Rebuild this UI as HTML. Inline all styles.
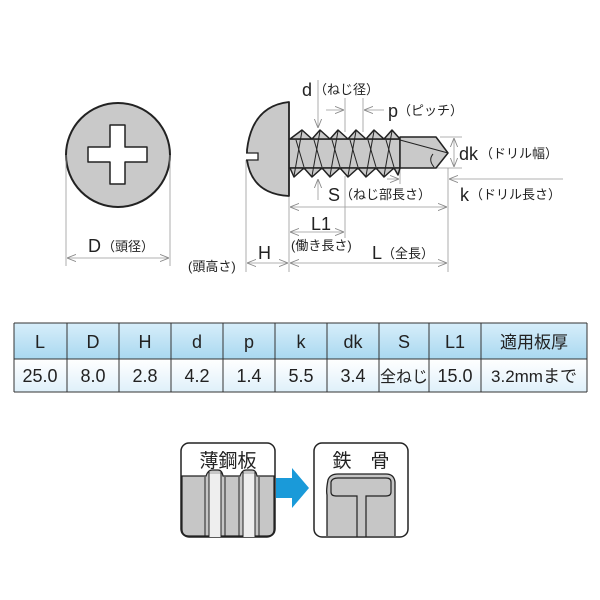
<!DOCTYPE html>
<html><head><meta charset="utf-8"><style>
body{margin:0;background:#fff;}
svg{display:block;font-family:"Liberation Sans","Noto Sans CJK JP",sans-serif;}
</style></head><body>
<svg width="600" height="600" viewBox="0 0 600 600" xmlns="http://www.w3.org/2000/svg">
<defs>
<marker id="a" viewBox="0 0 10 10" refX="10" refY="5" markerWidth="9" markerHeight="9" orient="auto-start-reverse" markerUnits="userSpaceOnUse"><path d="M0,1 L10,5 L0,9" fill="none" stroke="#888" stroke-width="1"/></marker>
<linearGradient id="hd" x1="0" y1="0" x2="0" y2="1"><stop offset="0" stop-color="#d7eefa"/><stop offset="1" stop-color="#a9d8f0"/></linearGradient>
<linearGradient id="dt" x1="0" y1="0" x2="0" y2="1"><stop offset="0" stop-color="#ffffff"/><stop offset="1" stop-color="#dff0fa"/></linearGradient>
</defs>

<circle cx="118" cy="155" r="52" fill="#c9c9c9" stroke="#222" stroke-width="2"/>
<path d="M110,125 h15 v22 h22 v15 h-22 v22 h-15 v-22 h-22 v-15 h22 z" fill="#fff" stroke="#222" stroke-width="1.5" stroke-linejoin="round"/>
<g stroke="#999" stroke-width="0.8" fill="none">
<line x1="66" y1="155" x2="66" y2="266"/><line x1="170" y1="155" x2="170" y2="266"/>
<line x1="67" y1="258" x2="169" y2="258" marker-start="url(#a)" marker-end="url(#a)"/>
</g>
<text x="88" y="252" font-size="18" fill="#222">D</text><text x="102" y="251" font-size="13" fill="#222">（頭径）</text>

<g stroke="#999" stroke-width="0.8" fill="none">
<line x1="246" y1="160" x2="246" y2="272"/>
<line x1="289" y1="176" x2="289" y2="272"/>
<line x1="448" y1="168" x2="448" y2="272"/>
<line x1="345" y1="176" x2="345" y2="238"/>
<line x1="318" y1="80" x2="318" y2="128" marker-end="url(#a)"/>
<line x1="318" y1="200" x2="318" y2="179" marker-end="url(#a)"/>
<line x1="345" y1="98" x2="345" y2="132"/><line x1="363" y1="98" x2="363" y2="132"/>
<line x1="326" y1="110" x2="344" y2="110" marker-end="url(#a)"/>
<line x1="384" y1="110" x2="364" y2="110" marker-end="url(#a)"/>
<line x1="440" y1="137" x2="462" y2="137"/><line x1="430" y1="168" x2="462" y2="168"/>
<line x1="454" y1="138" x2="454" y2="167" marker-start="url(#a)" marker-end="url(#a)"/>
<line x1="387" y1="179" x2="399" y2="179" marker-end="url(#a)"/>
<line x1="563" y1="179" x2="449" y2="179" marker-end="url(#a)"/>
<line x1="400" y1="168" x2="400" y2="184"/>
<line x1="290" y1="207" x2="447" y2="207" marker-start="url(#a)" marker-end="url(#a)"/>
<line x1="290" y1="232" x2="344" y2="232" marker-start="url(#a)" marker-end="url(#a)"/>
<line x1="247" y1="263" x2="288" y2="263" marker-start="url(#a)" marker-end="url(#a)"/>
<line x1="290" y1="263" x2="447" y2="263" marker-start="url(#a)" marker-end="url(#a)"/>
</g>
<rect x="288" y="139" width="112" height="29" fill="#c9c9c9" stroke="#222" stroke-width="1.5"/>
<path d="M290,139 L302,130 L312,139 L320,130 L330,139 L338,130 L348,139 L356,130 L366,139 L374,130 L384,139 L392,130 L400,139 Z" fill="#c9c9c9" stroke="#222" stroke-width="1.5" stroke-linejoin="round"/>
<path d="M290,168 L294,177 L304,168 L312,177 L322,168 L330,177 L340,168 L348,177 L358,168 L366,177 L376,168 L384,177 L394,168 L398,175 L400,168 Z" fill="#c9c9c9" stroke="#222" stroke-width="1.5" stroke-linejoin="round"/>
<g stroke="#222" stroke-width="1">
<line x1="302" y1="131" x2="294" y2="176"/><line x1="320" y1="131" x2="312" y2="176"/><line x1="338" y1="131" x2="330" y2="176"/><line x1="356" y1="131" x2="348" y2="176"/><line x1="374" y1="131" x2="366" y2="176"/><line x1="392" y1="131" x2="384" y2="176"/>
<line x1="296" y1="140" x2="304" y2="167"/><line x1="314" y1="140" x2="322" y2="167"/><line x1="332" y1="140" x2="340" y2="167"/><line x1="350" y1="140" x2="358" y2="167"/><line x1="368" y1="140" x2="376" y2="167"/><line x1="386" y1="140" x2="394" y2="167"/>
</g>
<path d="M400,137 L436,137 L448,153 L436,168 L400,168 Z" fill="#c9c9c9" stroke="#222" stroke-width="1.5" stroke-linejoin="round"/>
<path d="M400,140 L448,153 M433,154 Q428,160 434,167" fill="none" stroke="#222" stroke-width="1"/>
<path d="M289,102 L289,196 Q252,194 247,160 L247,150 Q252,106 289,102 Z" fill="#c9c9c9" stroke="#222" stroke-width="1.8" stroke-linejoin="round"/>
<path d="M246,153 L258,153 L258,160 L246,160" fill="#fff" stroke="#222" stroke-width="1.3"/>

<g fill="#222">
<text x="302" y="96" font-size="18">d</text><text x="314" y="94" font-size="13">（ねじ径）</text>
<text x="388" y="117" font-size="18">p</text><text x="398" y="115" font-size="13">（ピッチ）</text>
<text x="459" y="160" font-size="18">dk</text><text x="480" y="158" font-size="13">（ドリル幅）</text>
<text x="460" y="201" font-size="18">k</text><text x="470" y="199" font-size="13">（ドリル長さ）</text>
<text x="328" y="201" font-size="18">S</text><text x="340" y="199" font-size="13">（ねじ部長さ）</text>
<text x="311" y="230" font-size="18">L1</text>
<text x="291" y="250" font-size="13">(働き長さ)</text>
<text x="258" y="259" font-size="18">H</text>
<text x="372" y="259" font-size="18">L</text><text x="382" y="258" font-size="13">（全長）</text>
<text x="188" y="271" font-size="13">(頭高さ)</text>
</g>

<rect x="14" y="323" width="573" height="36" fill="url(#hd)"/>
<rect x="14" y="359" width="573" height="33" fill="url(#dt)"/>
<g stroke="#333" stroke-width="1" fill="none">
<line x1="14" y1="323" x2="587" y2="323"/><line x1="14" y1="359" x2="587" y2="359"/><line x1="14" y1="392" x2="587" y2="392"/>
<line x1="14" y1="323" x2="14" y2="392"/><line x1="587" y1="323" x2="587" y2="392"/>
<line x1="67" y1="323" x2="67" y2="392"/><line x1="119" y1="323" x2="119" y2="392"/><line x1="171" y1="323" x2="171" y2="392"/><line x1="223" y1="323" x2="223" y2="392"/><line x1="275" y1="323" x2="275" y2="392"/><line x1="327" y1="323" x2="327" y2="392"/><line x1="379" y1="323" x2="379" y2="392"/><line x1="429" y1="323" x2="429" y2="392"/><line x1="481" y1="323" x2="481" y2="392"/>
</g>
<g fill="#222" font-size="18" text-anchor="middle">
<text x="40" y="348">L</text><text x="93" y="348">D</text><text x="145" y="348">H</text><text x="197" y="348">d</text><text x="249" y="348">p</text><text x="301" y="348">k</text><text x="353" y="348">dk</text><text x="404" y="348">S</text><text x="455" y="348">L1</text><text x="534" y="348" font-size="17">適用板厚</text>
<text x="40" y="382">25.0</text><text x="93" y="382">8.0</text><text x="145" y="382">2.8</text><text x="197" y="382">4.2</text><text x="249" y="382">1.4</text><text x="301" y="382">5.5</text><text x="353" y="382">3.4</text><text x="404" y="382" font-size="16">全ねじ</text>
</g>
<text x="455" y="382" font-size="18" fill="#222" text-anchor="middle">15.0</text>
<text x="534" y="382" font-size="17" fill="#222" text-anchor="middle">3.2mmまで</text>

<rect x="181" y="443" width="94" height="94" rx="8" fill="#fff" stroke="#222" stroke-width="1.5"/>
<path d="M182,476 L206,476 Q208,470 212,470 L218,470 Q222,470 223,476 L240,476 Q242,470 246,470 L252,470 Q256,470 257,476 L274,476 L274,529 Q274,536 267,536 L189,536 Q182,536 182,529 Z" fill="#c6c6c6" stroke="#222" stroke-width="1.2"/>
<rect x="209" y="474" width="12" height="63" fill="#eee"/><rect x="243" y="474" width="12" height="63" fill="#eee"/>
<path d="M205,477 L205,537 M209,472 L209,537 M221,472 L221,537 M225,477 L225,537 M239,477 L239,537 M243,472 L243,537 M255,472 L255,537 M259,477 L259,537" stroke="#222" stroke-width="1"/>
<text x="228" y="467" font-size="19" text-anchor="middle" fill="#222">薄鋼板</text>
<path d="M276,478 L292,478 L292,468 L309,488 L292,508 L292,498 L276,498 Z" fill="#1a9ad9"/>
<rect x="314" y="443" width="94" height="94" rx="8" fill="#fff" stroke="#222" stroke-width="1.5"/>
<path d="M327,536 L327,495 Q326,490 328,480 Q330,474 338,474 L386,474 Q394,474 395,482 L395,536 Z" fill="#c6c6c6"/>
<path d="M327,536 L327,495 Q326,490 328,480 Q330,474 338,474 L386,474 Q394,474 395,482 L395,536" fill="none" stroke="#222" stroke-width="1.3"/>
<path d="M357,537 L357,496 L336,496 Q331,496 331,492 L331,482 Q332,478 338,478 L386,478 Q391,478 391,482 L391,492 Q391,496 386,496 L366,496 L366,537" fill="none" stroke="#222" stroke-width="1.2"/>
<text x="361" y="467" font-size="19" text-anchor="middle" fill="#222">鉄　骨</text>
</svg>
</body></html>
